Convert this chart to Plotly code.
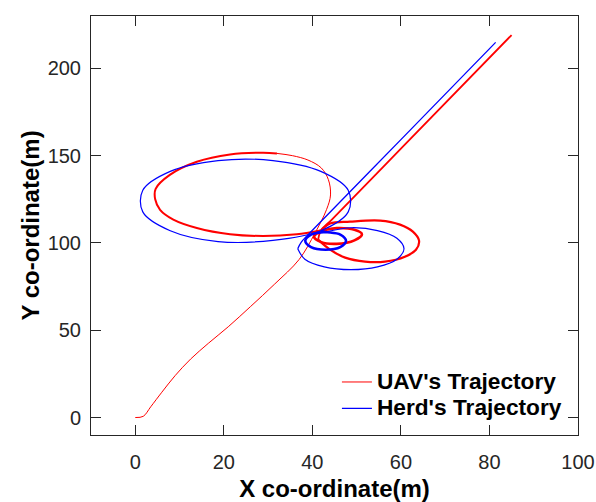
import plotly.graph_objects as go

# ---------------- data ----------------
# UAV trajectory, split in segments (drawn with different widths)
uav_approach_x = [0.0, 1.8, 3.5, 6.0, 9.0, 12.5, 16.5, 21.0, 26.0, 31.5, 37.0, 40.6, 43.2, 44.1, 43.6, 42.0, 39.0, 35.5, 32.0]
uav_approach_y = [0.0, 0.7, 6.2, 14.5, 24.0, 33.5, 42.5, 52.0, 63.5, 76.5, 90.5, 105.7, 119.1, 127.5, 136.4, 143.0, 147.5, 150.0, 151.3]

uav_bigloop_x = [32.0, 28.9, 21.4, 13.9, 7.8, 4.6, 4.5, 5.6, 8.6, 13.9, 21.4, 28.9, 36.5, 41.5]
uav_bigloop_y = [151.3, 151.7, 150.7, 146.5, 139.0, 131.0, 125.0, 119.0, 113.4, 108.6, 105.0, 104.0, 105.0, 107.0]

uav_smallloop_x = [41.5, 42.0, 45.5, 49.5, 51.2, 49.5, 45.5, 42.0, 40.4, 42.0]
uav_smallloop_y = [107.0, 107.0, 108.5, 107.5, 105.0, 101.5, 99.5, 100.5, 103.5, 107.0]

uav_midloop_x = [42.0, 44.0, 48.5, 55.3, 59.8, 62.7, 64.1, 63.4, 60.9, 56.4, 51.9, 47.4, 44.0, 41.3]
uav_midloop_y = [107.0, 111.1, 112.2, 112.8, 110.5, 106.5, 101.3, 96.1, 92.1, 89.3, 89.3, 91.6, 96.2, 101.9]

uav_exit_x = [41.3, 41.9, 44.4, 60.0, 85.0]
uav_exit_y = [101.9, 107.0, 113.4, 154.0, 219.1]

# Herd trajectory
herd_bigloop_x = [41.9, 48.1, 48.1, 41.9, 31.1, 18.7, 7.9, 1.7, 1.7, 7.9, 18.7, 31.1, 41.9]
herd_bigloop_y = [107.0, 117.8, 130.2, 141.0, 147.2, 147.2, 141.0, 130.2, 117.8, 107.0, 100.8, 101.5, 107.0]

herd_smallloop_x = [41.9, 43.0, 46.3, 47.6, 46.3, 43.0, 39.7, 38.4, 39.7, 43.0]
herd_smallloop_y = [107.0, 106.3, 104.8, 101.2, 97.6, 96.1, 97.6, 101.2, 104.8, 106.3]

herd_midloop_x = [43.0, 48.7, 54.7, 59.1, 60.7, 59.1, 54.7, 48.7, 42.7, 38.3, 36.7]
herd_midloop_y = [106.3, 108.7, 107.1, 102.7, 96.7, 90.7, 86.3, 84.7, 86.3, 90.7, 96.7]

herd_exit_x = [36.7, 37.5, 39.9, 60.0, 81.4]
herd_exit_y = [96.7, 100.5, 107.0, 159.2, 214.9]

x_ticks = [0, 20, 40, 60, 80, 100]
y_ticks = [0, 50, 100, 150, 200]

RED = "#ff0000"
BLUE = "#0000ff"
FONT = "Liberation Sans, Arial, Helvetica, sans-serif"

fig = go.Figure()

def seg(x, y, color, width, name, group, show):
    fig.add_trace(go.Scatter(
        x=x, y=y, mode="lines", legendgroup=group, showlegend=show,
        name='<span style="font-size:22.7px"><b>' + name + '</b></span>',
        line=dict(color=color, width=width, shape="spline", smoothing=1.0),
        hoverinfo="skip"))

seg(uav_approach_x, uav_approach_y, RED, 1.0, "UAV's Trajectory", "uav", True)
seg(uav_bigloop_x, uav_bigloop_y, RED, 2.0, "UAV's Trajectory", "uav", False)
seg(uav_smallloop_x, uav_smallloop_y, RED, 2.6, "UAV's Trajectory", "uav", False)
seg(uav_midloop_x, uav_midloop_y, RED, 2.2, "UAV's Trajectory", "uav", False)
seg(uav_exit_x, uav_exit_y, RED, 1.8, "UAV's Trajectory", "uav", False)

seg(herd_bigloop_x, herd_bigloop_y, BLUE, 1.2, "Herd's Trajectory", "herd", True)
seg(herd_smallloop_x, herd_smallloop_y, BLUE, 2.6, "Herd's Trajectory", "herd", False)
seg(herd_midloop_x, herd_midloop_y, BLUE, 1.2, "Herd's Trajectory", "herd", False)
seg(herd_exit_x, herd_exit_y, BLUE, 1.3, "Herd's Trajectory", "herd", False)

axis_common = dict(
    showline=True, linecolor="#262626", linewidth=1, mirror="ticks",
    ticks="inside", ticklen=10, tickwidth=1, tickcolor="#262626",
    showgrid=False, zeroline=False,
    tickfont=dict(family=FONT, size=20, color="#262626"),
)

fig.update_xaxes(range=[-10, 100], tickvals=x_ticks, ticklabelstandoff=9,
                 title=dict(text="<b>X co-ordinate(m)</b>", standoff=11,
                            font=dict(family=FONT, size=24, color="#000000")),
                 **axis_common)
fig.update_yaxes(range=[-10, 230], tickvals=y_ticks, ticklabelstandoff=5,
                 title=dict(text="<b>Y co-ordinate(m)</b>", standoff=1,
                            font=dict(family=FONT, size=24, color="#000000")),
                 **axis_common)

fig.update_layout(
    width=596, height=502,
    margin=dict(l=91, r=18, t=16, b=67, autoexpand=False),
    plot_bgcolor="white", paper_bgcolor="white",
    legend=dict(x=0.505, y=0.17, xanchor="left", yanchor="top",
                bgcolor="rgba(0,0,0,0)", borderwidth=0,
                font=dict(family=FONT, size=18, color="#000000"),
                itemwidth=30, tracegroupgap=0),
)

fig.write_html("out.html", config={"displayModeBar": False},
               post_script="document.body.style.margin='0';document.body.style.overflow='hidden';")
